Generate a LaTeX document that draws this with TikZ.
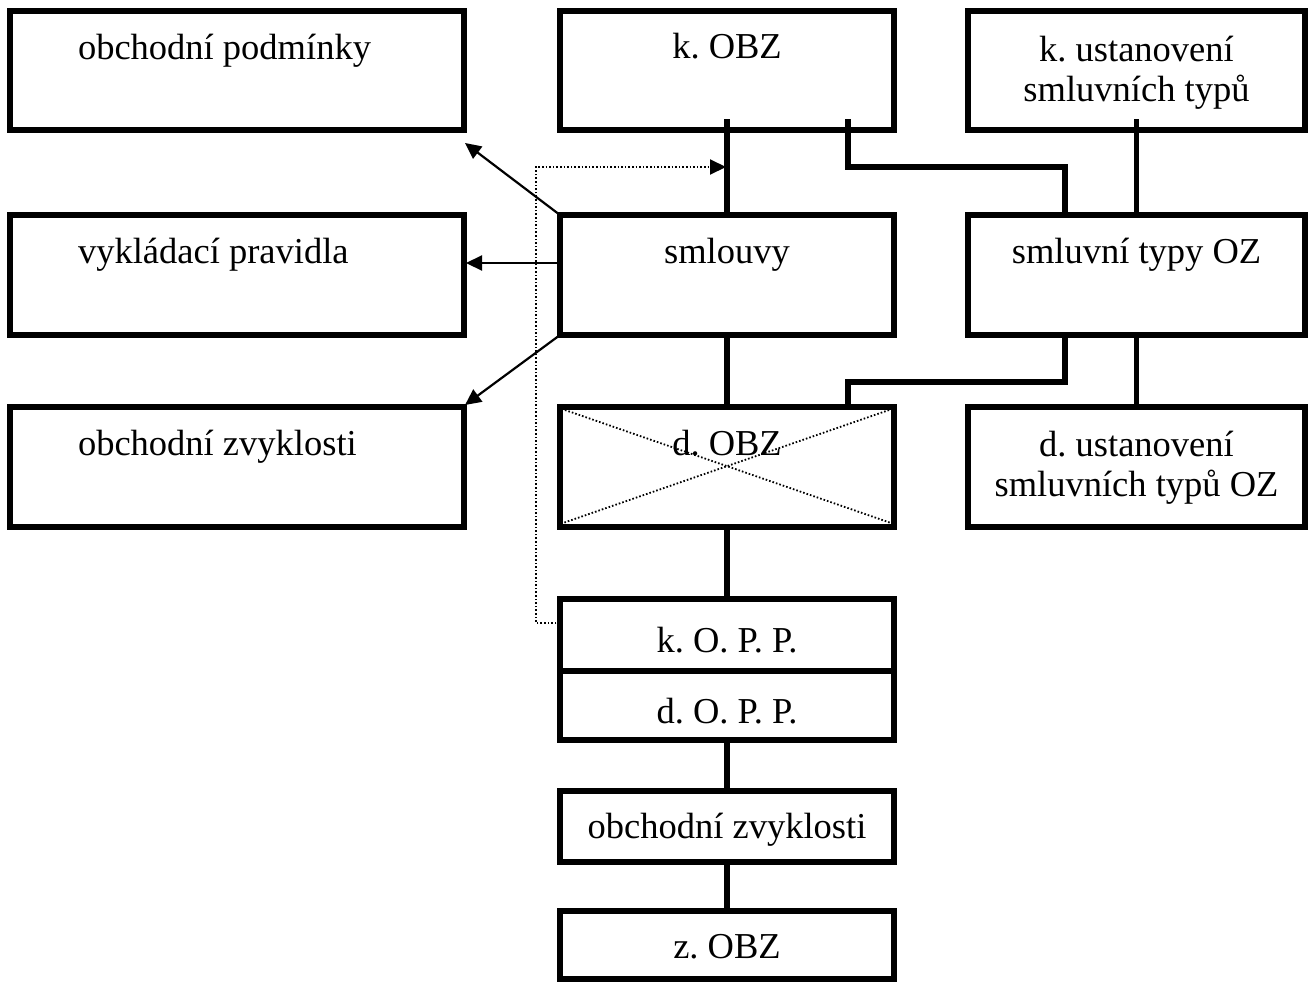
\documentclass[tikz,border=0pt]{standalone}
\usepackage{fontspec}
\setmainfont{Liberation Serif}
\usetikzlibrary{arrows.meta,calc}
\frenchspacing
\begin{document}
\begin{tikzpicture}[x=1pt,y=-1pt,
  box/.style={draw, rectangle, line width=5.8pt, inner sep=0pt, outer sep=0pt},
  wide/.style={box, minimum width=454pt, minimum height=120pt},
  mid/.style={box, minimum width=334pt},
  rgt/.style={box, minimum width=337pt, minimum height=120pt},
  lbl/.style={inner sep=0pt, outer sep=0pt, font=\fontsize{36.5}{40}\selectfont\frenchspacing, anchor=base},
  lbll/.style={lbl, anchor=base west},
  conn/.style={line width=5.5pt},
  tip/.style={-{Triangle[length=16pt,width=15pt]}},
  arr/.style={line width=2.2pt, tip},
  dotl/.style={line width=2pt, dash pattern=on 1.6pt off 2pt, tip},
  xline/.style={line width=1.8pt, dash pattern=on 1.6pt off 2pt}]
\fill[white] (0,0) rectangle (1309,983);
\useasboundingbox (0,0) rectangle (1309,983);

% left column
\node[wide, minimum height=119pt] (op) at (237,70.5) {};
\node[wide] (vp) at (237,275) {};
\node[wide] (oz1) at (237,467) {};
% middle column
\node[mid, minimum height=119pt] (kobz) at (727,70.5) {};
\node[mid, minimum height=120pt] (sml) at (727,275) {};
\node[mid, minimum height=120pt] (dobz) at (727,467) {};
\node[mid, minimum height=72pt] (kopp) at (727,635) {};
\node[mid, minimum height=69pt] (dopp) at (727,705.5) {};
\node[mid, minimum height=71pt] (oz2) at (727,826.5) {};
\node[mid, minimum height=68pt] (zobz) at (727,945) {};
% right column
\node[rgt, minimum height=119pt] (kust) at (1136.5,70.5) {};
\node[rgt] (styp) at (1136.5,275) {};
\node[rgt] (dust) at (1136.5,467) {};

% cross in d. OBZ
\draw[xline] ([shift={(5pt,-3pt)}]dobz.north west) -- ([shift={(-3pt,4pt)}]dobz.south east);
\draw[xline] ([shift={(-5pt,-3pt)}]dobz.north east) -- ([shift={(3pt,4pt)}]dobz.south west);

% helper coordinates
\coordinate (b1) at (848,167);
\coordinate (b2) at (1065,167);
\coordinate (b3) at (1065,382);
\coordinate (b4) at (848,382);
\coordinate (d1) at (536,167);
\coordinate (d2) at (726,167);

% connectors
\draw[conn] (kobz.south) ++(0,-11) -- (sml.north);
\draw[conn] (b1 |- kobz.south) ++(0,-11) -- (b1) -- (b2) -- (b2 |- styp.north);
\draw[conn] (kust.south) ++(0,-11) -- (styp.north);
\draw[conn] (sml.south) -- (dobz.north);
\draw[conn] (b3 |- styp.south) -- (b3) -- (b4) -- (b4 |- dobz.north);
\draw[conn] (styp.south) -- (dust.north);
\draw[conn] (dobz.south) -- (kopp.north);
\draw[conn] (dopp.south) -- (oz2.north);
\draw[conn] (oz2.south) -- (zobz.north);

% arrows from smlouvy
\draw[arr] (sml.north west) -- ([shift={(1pt,-13pt)}]op.south east);
\draw[arr] ([yshift=12pt]sml.west) -- ([shift={(2pt,12pt)}]vp.east);
\draw[arr] (sml.south west) -- ([shift={(1pt,2pt)}]oz1.north east);

% dotted arrow
\draw[dotl] ([yshift=12pt]kopp.west) -| (d1) -- (d2);

% texts
\node[lbll] (opt) at (78,59) {obchodní podmínky};
\node[lbll] (vpt) at (78,263) {vykládací pravidla};
\node[lbll] (oz1t) at (78,455) {obchodní zvyklosti};
\node[lbl] (kobzt) at (727,58) {k. OBZ};
\node[lbl] (smlt) at (727,263) {smlouvy};
\node[lbl] (dobzt) at (727,455) {d. OBZ};
\node[lbl] (koppt) at (727,652) {k. O. P. P.};
\node[lbl] (doppt) at (727,723) {d. O. P. P.};
\node[lbl] (oz2t) at (727,838) {obchodní zvyklosti};
\node[lbl] (zobzt) at (727,958) {z. OBZ};
\node[lbl] (kustt1) at (1136.5,61) {k. ustanovení};
\node[lbl] (kustt2) at (1136.5,101) {smluvních typů};
\node[lbl] (stypt) at (1136.5,263) {smluvní typy OZ};
\node[lbl] (dustt1) at (1136.5,456) {d. ustanovení};
\node[lbl] (dustt2) at (1136.5,496) {smluvních typů OZ};
\end{tikzpicture}
\end{document}
